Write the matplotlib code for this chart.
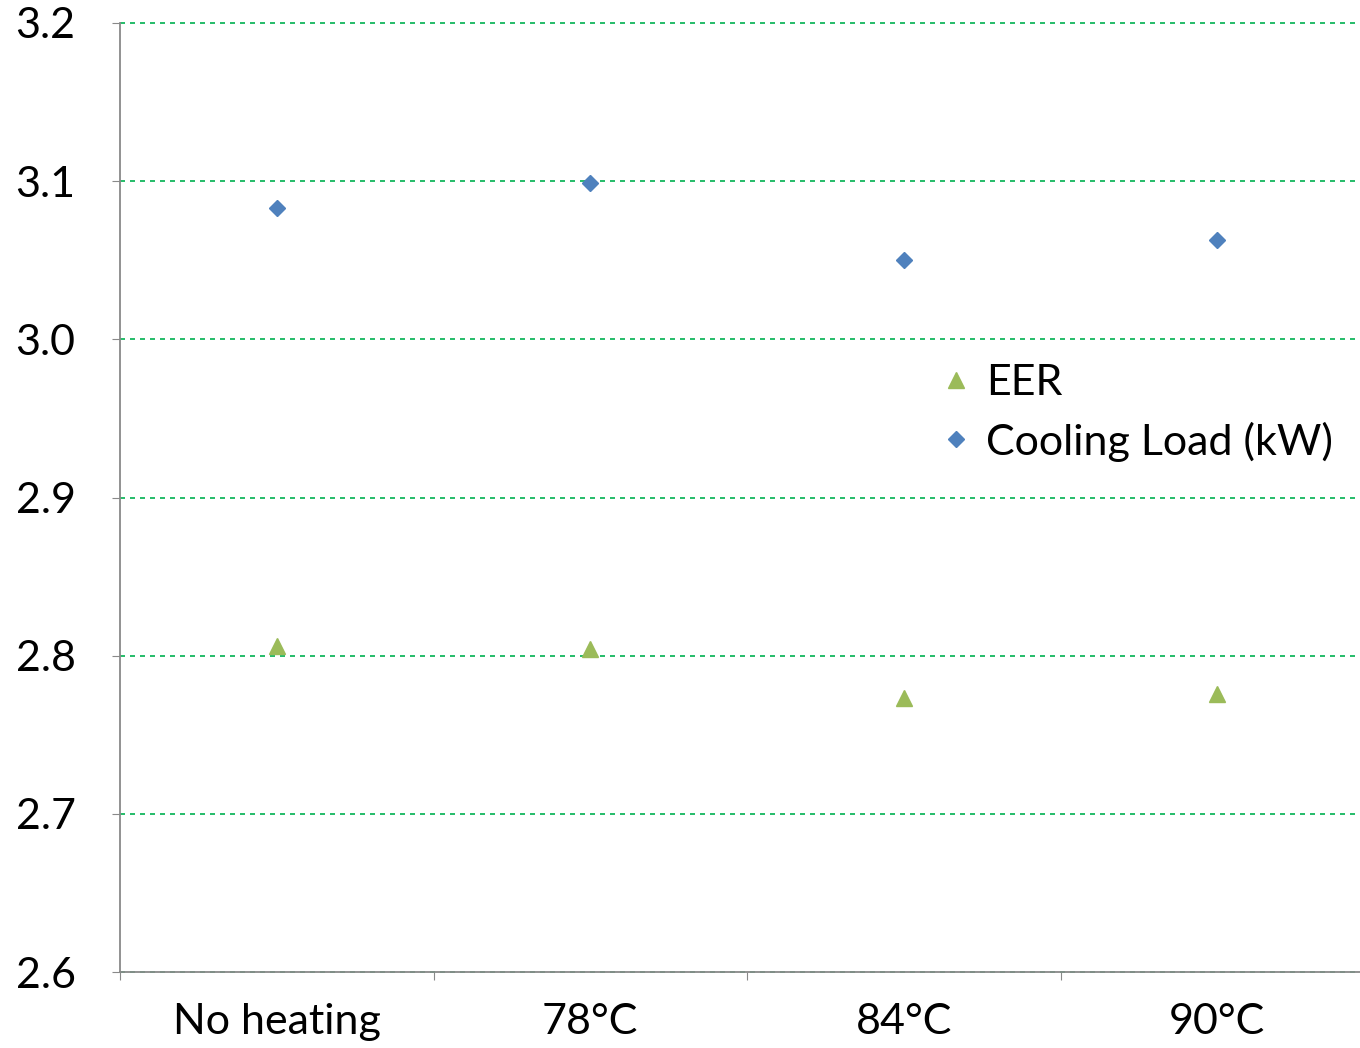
import matplotlib
matplotlib.use("Agg")
import matplotlib.pyplot as plt

categories = ["No heating", "78°C", "84°C", "90°C"]
eer = [2.806, 2.804, 2.773, 2.776]
cooling_load = [3.083, 3.099, 3.050, 3.063]
yticks = [2.6, 2.7, 2.8, 2.9, 3.0, 3.1, 3.2]

plt.rcParams['font.family'] = ['Lato', 'DejaVu Sans']

fig = plt.figure(figsize=(13.6, 10.48), dpi=100)
ax = fig.add_axes([120/1360, 1-972/1048, 1254/1360, (972-23)/1048])

x = list(range(len(categories)))
ax.plot(x, eer, linestyle='none', marker='^', ms=12, color='#9BBB59', label='EER', zorder=3)
ax.plot(x, cooling_load, linestyle='none', marker='D', ms=8.5, color='#4F81BD', label='Cooling Load (kW)', zorder=3)

ax.set_xlim(-0.5, len(categories) - 0.5)
ax.set_ylim(2.6, 3.2)
ax.set_yticks(yticks)
ax.set_yticklabels([f"{v:.1f}" for v in yticks], fontsize=31)
ax.yaxis.grid(True, color='#00B050', linestyle=(0, (3, 3)), linewidth=1.2)
for gl in ax.get_ygridlines():
    gl.set_clip_on(False)
ax.set_axisbelow(True)

ax.set_xticks([i - 0.5 for i in range(len(categories) + 1)])
ax.set_xticklabels([])
ax.set_xticks(x, minor=True)
ax.set_xticklabels(categories, minor=True, fontsize=31)
ax.tick_params(axis='x', which='minor', length=0, pad=22)
ax.tick_params(axis='x', which='major', length=6, color='#898989', direction='out')
ax.tick_params(axis='y', length=6, color='#898989', direction='out', pad=26)

for s in ['top', 'right']:
    ax.spines[s].set_visible(False)
for s in ['left', 'bottom']:
    ax.spines[s].set_color('#898989')
    ax.spines[s].set_linewidth(1.3)

ax.legend(loc='upper left', bbox_to_anchor=(930/1360, 1-364/1048), bbox_transform=fig.transFigure,
          frameon=False, fontsize=31, handletextpad=0.1, handlelength=1.2, labelspacing=0.45,
          borderaxespad=0, borderpad=0)

fig.savefig("out.png", dpi=100)
